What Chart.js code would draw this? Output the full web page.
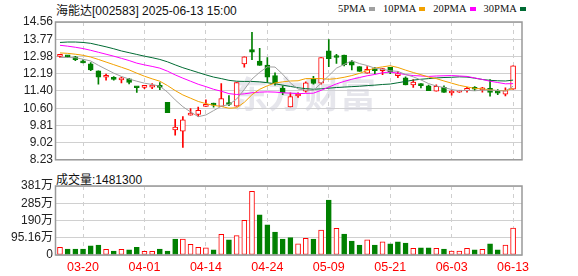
<!DOCTYPE html>
<html lang="zh">
<head>
<meta charset="UTF-8">
<title>海能达 日K</title>
<script src="https://cdn.jsdelivr.net/npm/chart.js"></script>
<style>
  body { margin: 0; background: #fff; }
  .wrap { position: relative; width: 578px; height: 276px; overflow: hidden;
          font-family: "Liberation Sans", Arial, "Noto Sans CJK SC", sans-serif; color: #111; }
  .title { position: absolute; left: 56px; top: 1px; font-size: 12px; white-space: nowrap; }
  .legend { position: absolute; left: 338px; top: 2px; display: flex; white-space: nowrap;
            font-family: "Liberation Serif", "DejaVu Serif", serif; font-size: 10.5px; line-height: 13px; }
  .legend span { display: inline-flex; align-items: center; margin-right: 8px; }
  .legend i { display: inline-block; width: 6px; height: 4px; margin-left: 3px; }
  .vol-title { position: absolute; left: 56px; top: 170px; font-size: 12px; white-space: nowrap; }
  #kline { position: absolute; left: 0; top: 0; }
  #vol { position: absolute; left: 0; top: 170px; }
</style>
</head>
<body>
<div class="wrap">
  <div class="title">海能达[002583] 2025-06-13 15:00</div>
  <div class="legend" id="legend"></div>
  <div class="vol-title">成交量:1481300</div>
  <canvas id="kline" width="578" height="170"></canvas>
  <canvas id="vol" width="578" height="106"></canvas>
</div>
<script>
// trading days shown
const dates = ['03-17','03-18','03-19','03-20','03-21','03-24','03-25','03-26','03-27','03-28','03-31',
  '04-01','04-02','04-03','04-07','04-08','04-09','04-10','04-11','04-14','04-15','04-16','04-17','04-18',
  '04-21','04-22','04-23','04-24','04-25','04-28','04-29','04-30',
  '05-06','05-07','05-08','05-09','05-12','05-13','05-14','05-15','05-16','05-19','05-20','05-21','05-22',
  '05-23','05-26','05-27','05-28','05-29','05-30',
  '06-03','06-04','06-05','06-06','06-09','06-10','06-11','06-12','06-13'];

const open  = [12.98,13.00,12.96,12.76,12.64,12.32,12.02,12.02,11.90,11.95,11.58,11.56,11.57,11.58,10.87,
  9.60,9.54,10.28,10.31,10.68,10.78,10.68,10.79,10.69,12.64,13.29,12.76,12.58,12.10,11.53,
  10.66,11.16,11.38,11.95,11.75,13.24,12.95,13.04,12.73,12.51,12.21,12.36,12.33,12.48,12.10,
  12.00,11.67,11.73,11.63,11.38,11.56,11.30,11.34,11.40,11.49,11.44,11.51,11.31,11.25,11.47];
const high  = [13.08,13.02,12.98,12.83,12.70,12.32,12.17,12.05,12.03,11.97,11.59,11.65,11.73,11.78,10.87,
  10.09,10.22,10.58,10.65,10.98,10.83,11.73,11.18,11.78,12.96,14.08,13.35,12.92,12.22,11.63,
  11.31,11.31,11.81,12.07,12.92,13.75,13.07,13.04,12.80,12.51,12.51,12.48,12.43,12.48,12.29,
  12.04,11.92,11.73,11.66,11.67,11.63,11.41,11.42,11.56,11.59,11.56,11.92,11.45,11.54,12.55];
const low   = [12.93,12.93,12.78,12.68,12.33,11.70,11.89,11.89,11.76,11.72,11.32,11.50,11.50,11.45,10.40,
  9.36,8.80,10.28,10.22,10.68,10.65,10.68,10.72,10.69,12.48,12.83,12.57,11.78,11.66,11.22,
  10.66,11.10,11.34,11.70,11.70,12.51,12.66,12.54,12.36,12.29,12.21,12.19,12.14,12.19,12.00,
  11.67,11.56,11.53,11.41,11.38,11.32,11.20,11.32,11.34,11.40,11.34,11.15,11.22,11.16,11.47];
const close = [13.02,12.96,12.83,12.68,12.36,12.03,12.05,11.92,11.93,11.78,11.54,11.58,11.61,11.56,10.40,
  9.73,10.07,10.37,10.50,10.78,10.74,11.04,10.77,11.78,12.96,13.17,12.57,12.02,11.75,11.31,
  11.13,11.18,11.76,11.74,12.92,12.87,12.93,12.60,12.58,12.29,12.39,12.33,12.36,12.25,12.13,
  11.67,11.80,11.63,11.41,11.60,11.32,11.33,11.35,11.51,11.47,11.48,11.32,11.29,11.41,12.55];
const prevClose = 12.98; // close of the day before the first candle

// volume, in 万
const volume = [42,33,33,33,50,55,31,22,31,28,42,20,20,33,22,88,88,59,42,39,28,114,83,107,191,351,221,166,127,88,
  96,61,92,88,138,303,147,116,77,55,83,55,72,61,72,66,37,39,39,37,33,22,22,37,28,31,61,28,55,148.13];

const ma5  = [12.93,12.93,12.92,12.85,12.77,12.57,12.39,12.21,12.06,11.94,11.84,11.75,11.69,11.61,11.34,
  10.98,10.67,10.43,10.21,10.29,10.49,10.69,10.77,11.02,11.46,11.94,12.25,12.50,12.49,12.16,
  11.76,11.48,11.43,11.42,11.75,12.09,12.44,12.61,12.78,12.65,12.56,12.44,12.39,12.32,12.29,
  12.15,12.04,11.90,11.73,11.62,11.55,11.46,11.40,11.42,11.40,11.43,11.43,11.41,11.39,11.61];
const ma10 = [13.14,13.12,13.08,13.03,12.95,12.84,12.72,12.60,12.48,12.36,12.21,12.07,11.95,11.84,11.64,
  11.41,11.21,11.06,10.91,10.81,10.73,10.68,10.60,10.62,10.87,11.22,11.47,11.63,11.76,11.81,
  11.85,11.86,11.96,11.96,11.96,11.93,11.96,12.02,12.10,12.20,12.33,12.44,12.50,12.55,12.47,
  12.35,12.24,12.14,12.03,11.96,11.85,11.75,11.65,11.58,11.51,11.49,11.44,11.41,11.41,11.50];
const ma20 = [13.49,13.45,13.40,13.34,13.26,13.17,13.08,12.99,12.89,12.79,12.67,12.59,12.52,12.44,12.30,
  12.13,11.98,11.84,11.70,11.59,11.47,11.38,11.27,11.23,11.26,11.31,11.34,11.35,11.34,11.31,
  11.29,11.27,11.28,11.29,11.42,11.57,11.72,11.83,11.93,12.01,12.09,12.15,12.23,12.26,12.21,
  12.14,12.10,12.08,12.06,12.08,12.09,12.10,12.08,12.06,11.99,11.92,11.84,11.78,11.72,11.73];
const ma30 = [13.62,13.64,13.64,13.62,13.58,13.50,13.42,13.33,13.23,13.15,13.07,12.99,12.92,12.84,12.73,
  12.59,12.46,12.35,12.24,12.13,12.03,11.96,11.88,11.84,11.83,11.83,11.81,11.77,11.72,11.66,
  11.60,11.54,11.50,11.47,11.49,11.52,11.55,11.57,11.59,11.61,11.64,11.66,11.69,11.71,11.77,
  11.83,11.89,11.93,11.96,11.99,12.01,12.02,12.04,12.03,11.98,11.92,11.88,11.86,11.85,11.89];

const priceTicks = [8.23, 9.02, 9.81, 10.60, 11.40, 12.19, 12.98, 13.77, 14.56];
const volTicks = [0, 95.16, 190.32, 285.48, 380.64];
const volTickLabels = ['0', '95.16万', '190万', '285万', '381万'];
const dateTicks = ['03-20', '04-01', '04-14', '04-24', '05-09', '05-21', '06-03', '06-13'];

const maNames  = ['5PMA', '10PMA', '20PMA', '30PMA'];
const maSeries = [ma5, ma10, ma20, ma30];
const maColors = ['#a0a0a0', '#f2a100', '#ff00ff', '#006b33'];

const RED = '#ff0000', GREEN = '#008000';

// legend (text first, colour mark after)
document.getElementById('legend').innerHTML = maNames
  .map((name, k) => `<span>${name}<i style="background:${maColors[k]}"></i></span>`).join('');

Chart.defaults.font.family = '"Liberation Sans", Arial, "Noto Sans CJK SC", sans-serif';
Chart.defaults.font.size = 12;
Chart.defaults.color = '#222';

const idx = dates.map((_, i) => i);
const tickIdx = dateTicks.map(d => dates.indexOf(d));
const rise = close.map((c, i) => c >= open[i]);
const candleCol = rise.map(r => r ? RED : GREEN);
const volRise = close.map((c, i) => c >= (i === 0 ? prevClose : close[i - 1]));

// frame around the plot area
const framePlugin = {
  id: 'frame',
  afterDraw(chart) {
    const { ctx, chartArea: a } = chart;
    ctx.save();
    ctx.strokeStyle = '#999';
    ctx.lineWidth = 1.5;
    ctx.strokeRect(a.left - 0.5, a.top, a.right - a.left + 0.5, a.bottom - a.top);
    ctx.restore();
  }
};

// faint brand watermark behind the candles
const watermarkPlugin = {
  id: 'watermark',
  beforeDatasetsDraw(chart) {
    const { ctx } = chart;
    ctx.save();
    ctx.fillStyle = 'rgba(205, 205, 218, 0.5)';
    ctx.font = 'bold 36px "Noto Sans CJK SC", sans-serif';
    ctx.textAlign = 'left';
    ctx.textBaseline = 'middle';
    ctx.fillText('东方财富', 232, 94);
    ctx.restore();
  }
};

const xScale = (showLabels) => ({
  type: 'linear',
  min: -0.52,
  max: 60.16,
  offset: false,
  afterBuildTicks: s => { s.ticks = tickIdx.map(v => ({ value: v })); },
  afterFit: s => { s.height = showLabels ? 21 : 0; },
  grid: { color: '#cfcfcf', drawTicks: false, offset: false },
  border: { display: false, dash: [4, 4] },
  ticks: {
    display: showLabels,
    autoSkip: false,
    maxRotation: 0,
    padding: 5,
    color: RED,
    font: { size: 12.5 },
    callback: v => dates[v]
  }
});

new Chart(document.getElementById('kline'), {
  type: 'bar',
  data: {
    datasets: [
      ...maSeries.map((s, k) => ({
        type: 'line',
        label: maNames[k],
        data: idx.map(i => ({ x: i, y: s[i] })),
        borderColor: maColors[k],
        borderWidth: 1,
        pointRadius: 0,
        tension: 0,
        order: 0
      })),
      {
        label: 'body',
        data: idx.map(i => ({ x: i, y: [open[i], close[i]] })),
        backgroundColor: rise.map(r => r ? '#ffffff' : GREEN),
        borderColor: candleCol,
        borderWidth: 1,
        borderSkipped: false,
        barThickness: 5,
        minBarLength: 2,
        grouped: false,
        order: 1
      },
      {
        label: 'wick',
        data: idx.map(i => ({ x: i, y: [low[i], high[i]] })),
        backgroundColor: candleCol,
        barThickness: 1,
        grouped: false,
        order: 2
      }
    ]
  },
  options: {
    responsive: false,
    animation: false,
    layout: { padding: { top: 22, right: 56, bottom: 5, left: 0 } },
    plugins: { legend: { display: false }, tooltip: { enabled: false } },
    scales: {
      x: xScale(false),
      y: {
        min: 8.23,
        max: 14.56,
        afterBuildTicks: s => { s.ticks = priceTicks.map(v => ({ value: v })); },
        afterFit: s => { s.width = 56; },
        grid: { color: '#d0d0d0', drawTicks: false },
        border: { display: false },
        ticks: { padding: 3, color: '#222', autoSkip: false, callback: v => v.toFixed(2) }
      }
    }
  },
  plugins: [watermarkPlugin, framePlugin]
});

new Chart(document.getElementById('vol'), {
  type: 'bar',
  data: {
    datasets: [{
      label: '成交量',
      data: idx.map(i => ({ x: i, y: volume[i] })),
      backgroundColor: volRise.map(r => r ? '#ffffff' : GREEN),
      borderColor: volRise.map(r => r ? RED : GREEN),
      borderWidth: 1,
      borderSkipped: false,
      barThickness: 5,
      grouped: false
    }]
  },
  options: {
    responsive: false,
    animation: false,
    layout: { padding: { top: 16, right: 56, bottom: 0, left: 0 } },
    plugins: { legend: { display: false }, tooltip: { enabled: false } },
    scales: {
      x: xScale(true),
      y: {
        min: 0,
        max: 380.64,
        afterBuildTicks: s => { s.ticks = volTicks.map(v => ({ value: v })); },
        afterFit: s => { s.width = 56; },
        grid: { color: '#d0d0d0', drawTicks: false },
        border: { display: false },
        ticks: { padding: 3, color: '#222', autoSkip: false, callback: (v, i) => volTickLabels[i] }
      }
    }
  },
  plugins: [framePlugin]
});
</script>
</body>
</html>
